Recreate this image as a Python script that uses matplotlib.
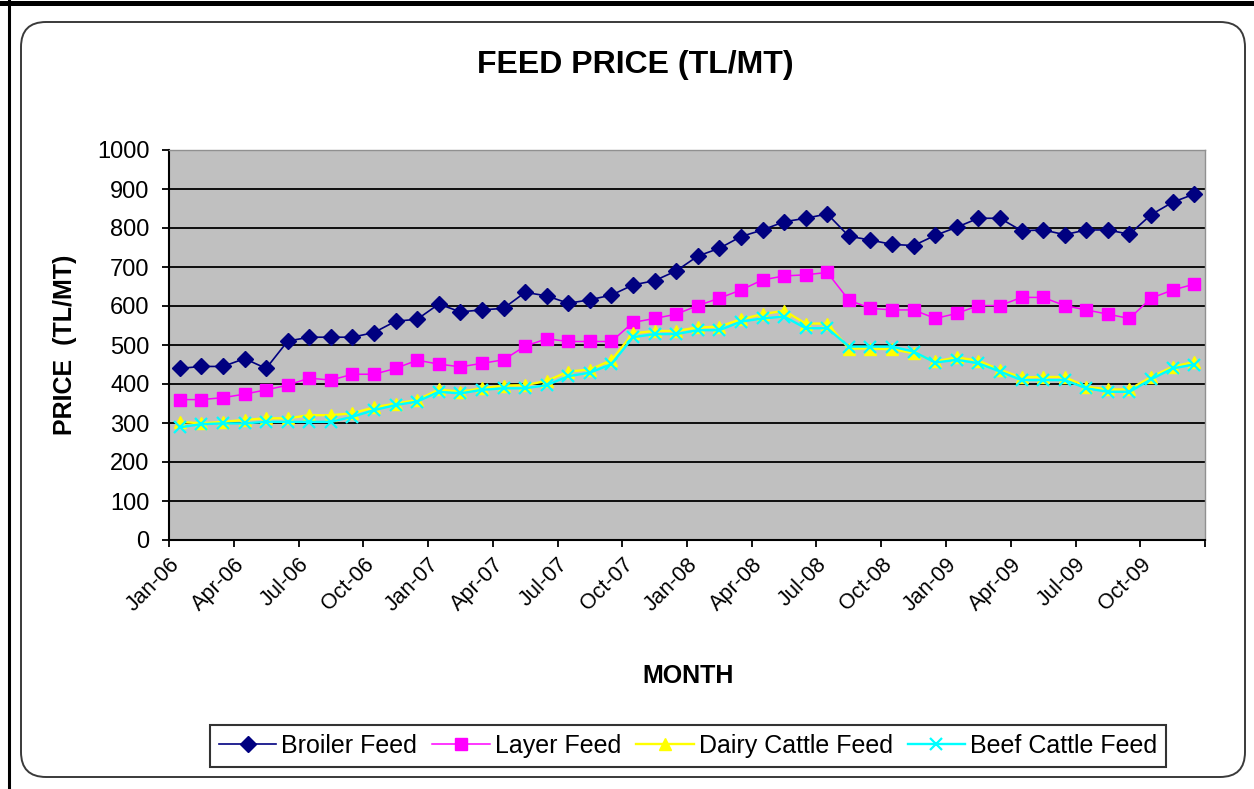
# Feed price chart (TL/MT), monthly Jan-06 .. Dec-09
import numpy as np
import matplotlib
matplotlib.use("Agg")
import matplotlib.pyplot as plt
from matplotlib.patches import FancyBboxPatch
from matplotlib.lines import Line2D

plt.rcParams['font.family'] = ['Liberation Sans', 'DejaVu Sans']

# ----------------------------
# data
# ----------------------------
tick_labels = ['Jan-06', 'Apr-06', 'Jul-06', 'Oct-06',
               'Jan-07', 'Apr-07', 'Jul-07', 'Oct-07',
               'Jan-08', 'Apr-08', 'Jul-08', 'Oct-08',
               'Jan-09', 'Apr-09', 'Jul-09', 'Oct-09']

broiler = [440, 445, 445, 465, 440, 510, 520, 520, 520, 532, 561, 566,
           605, 585, 590, 594, 635, 626, 607, 616, 628, 654, 665, 690,
           728, 748, 778, 795, 816, 825, 836, 779, 769, 758, 755, 781,
           802, 825, 825, 793, 795, 783, 795, 795, 784, 834, 866, 887]

layer = [360, 360, 365, 374, 385, 397, 415, 410, 425, 425, 440, 461,
         451, 444, 453, 462, 497, 516, 509, 509, 509, 558, 568, 579,
         601, 620, 641, 667, 677, 680, 686, 615, 594, 590, 590, 568,
         581, 601, 601, 622, 622, 601, 590, 579, 568, 620, 641, 656]

dairy = [303, 299, 303, 308, 312, 312, 320, 320, 325, 340, 350, 359,
         386, 380, 389, 396, 397, 408, 432, 437, 461, 530, 536, 536,
         545, 547, 566, 579, 588, 555, 555, 491, 491, 489, 479, 458,
         468, 460, 436, 417, 418, 418, 393, 386, 386, 418, 444, 457]

beef = [289, 297, 299, 299, 303, 303, 303, 303, 316, 333, 346, 355,
        380, 376, 385, 389, 389, 397, 420, 429, 451, 520, 528, 528,
        538, 538, 560, 568, 573, 543, 543, 496, 496, 496, 483, 455,
        462, 453, 432, 410, 410, 410, 389, 380, 380, 412, 440, 450]

n = len(broiler)
x = np.arange(n)

# ----------------------------
# figure / frame
# ----------------------------
W, H = 1254, 789
fig = plt.figure(figsize=(W / 100, H / 100), dpi=100)

# rounded chart area border (inches)
box = FancyBboxPatch((0.21, (H - 777) / 100), 12.24, 7.55,
                     boxstyle="round,pad=0,rounding_size=0.25",
                     transform=fig.dpi_scale_trans, facecolor='white',
                     edgecolor='#3a3a3a', linewidth=1.4, zorder=-2)
fig.patches.append(box)
# window edges of the screenshot
fig.lines.append(Line2D([0, W / 100], [(H - 2.5) / 100] * 2, color='black',
                        linewidth=3.6, transform=fig.dpi_scale_trans,
                        zorder=-1))
fig.lines.append(Line2D([0.085, 0.085], [0, H / 100], color='black',
                        linewidth=2.2, transform=fig.dpi_scale_trans,
                        zorder=-1))

ax = fig.add_axes([169 / W, 1 - 540 / H, (1205 - 169) / W, (540 - 150) / H])
ax.set_facecolor('#c0c0c0')

ax.plot(x, broiler, color='#000080', lw=1.2, marker='D', ms=8,
        label='Broiler Feed')
ax.plot(x, layer, color='#ff00ff', lw=1.1, marker='s', ms=8,
        label='Layer Feed')
ax.plot(x, dairy, color='#ffff00', lw=1.7, marker='^', ms=9,
        label='Dairy Cattle Feed')
ax.plot(x, beef, color='#00ffff', lw=1.7, marker='x', ms=8.5, mew=1.6,
        label='Beef Cattle Feed')

ax.set_xlim(-0.5, n - 0.5)
ax.set_ylim(0, 1000)
ax.set_yticks(np.arange(0, 1001, 100))
ax.set_xticks(np.arange(-0.5, n, 3))
ax.set_xticklabels(tick_labels + [''], rotation=45, ha='right',
                   rotation_mode='anchor', fontsize=15.5)
ax.tick_params(axis='y', labelsize=17, length=5, width=1.3, pad=9,
               direction='out')
ax.tick_params(axis='x', length=5, width=1.3, pad=5, direction='out')

ax.yaxis.grid(True, color='black', linewidth=1.3)
ax.set_axisbelow(True)
ax.get_ygridlines()[-1].set_color('#a8a8a8')

for side in ['left', 'bottom']:
    ax.spines[side].set_color('black')
    ax.spines[side].set_linewidth(1.5)
for side in ['top', 'right']:
    ax.spines[side].set_color('#909090')
    ax.spines[side].set_linewidth(1.0)

# ----------------------------
# texts
# ----------------------------
fig.text(635 / W, 1 - 65 / H, 'FEED PRICE (TL/MT)', ha='center',
         va='center', fontsize=23, fontweight='bold')
fig.text(65 / W, 1 - 345 / H, 'PRICE  (TL/MT)', ha='center', va='center',
         rotation=90, fontsize=18, fontweight='bold')
fig.text(688 / W, 1 - 676 / H, 'MONTH', ha='center', va='center',
         fontsize=18, fontweight='bold')

leg = fig.legend(loc='center', bbox_to_anchor=(688 / W, 1 - 746 / H),
                 ncol=4, fontsize=18, frameon=True, fancybox=False,
                 handlelength=2.3, handletextpad=0.2, columnspacing=0.6,
                 borderpad=0.35, borderaxespad=0)
leg.get_frame().set_edgecolor('black')
leg.get_frame().set_linewidth(1.5)

fig.savefig('out.png', dpi=100)
